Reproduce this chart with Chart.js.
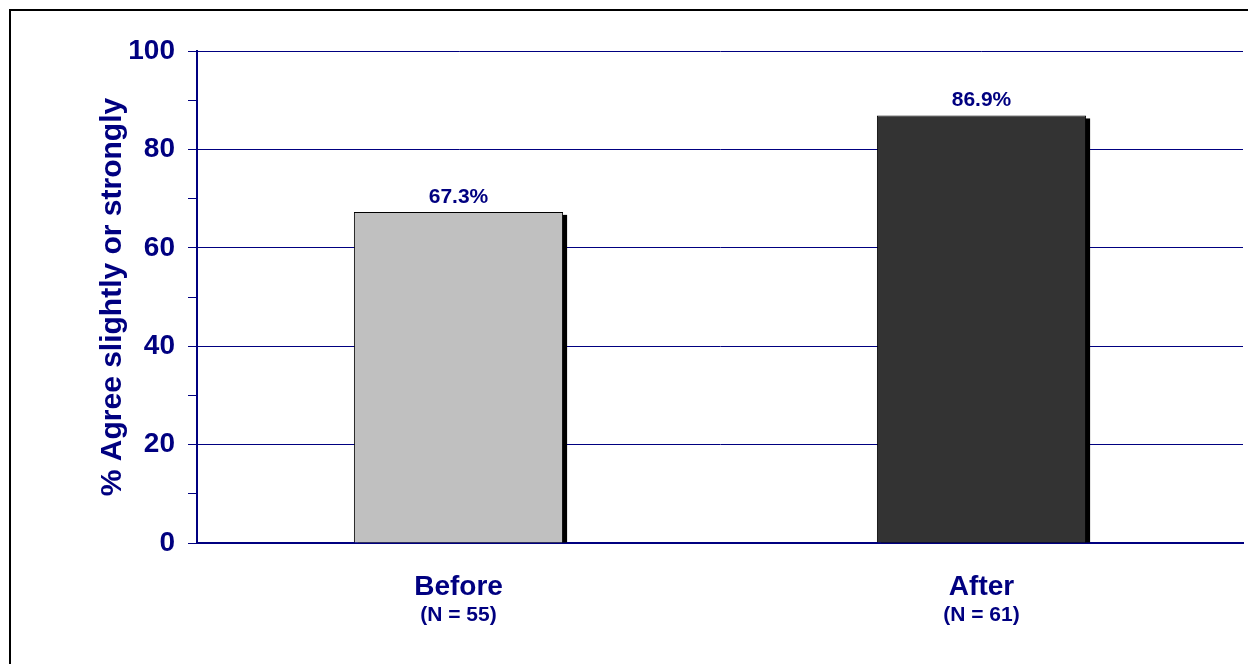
<!DOCTYPE html>
<html>
<head>
<meta charset="utf-8">
<script src="https://cdn.jsdelivr.net/npm/chart.js@4"></script>
<style>
  html, body { margin: 0; padding: 0; background: #fff; overflow: hidden; }
  #wrap { position: relative; width: 1248px; height: 664px; }
  #frame {
    position: absolute; left: 9px; top: 9px; width: 1400px; height: 800px;
    border-left: 2px solid #000; border-top: 2px solid #000; pointer-events: none;
  }
</style>
</head>
<body>
<div id="wrap">
  <canvas id="agreeChart"></canvas>
  <div id="frame"></div>
</div>
<script>
// Chart data
const categories = ["Before", "After"];
const sampleLabels = ["(N = 55)", "(N = 61)"];
const agreePct = [67.3, 86.9];
const barColors = ["#c0c0c0", "#333333"];

const NAVY = "#000080";
const FONT = "'Liberation Sans', Arial, sans-serif";

// Drop shadow behind each bar
const barShadow = {
  id: "barShadow",
  beforeDatasetsDraw(chart) {
    const ctx = chart.ctx;
    const meta = chart.getDatasetMeta(0);
    ctx.save();
    ctx.fillStyle = "#000";
    meta.data.forEach((bar) => {
      const w = bar.width;
      ctx.fillRect(bar.x - w / 2 + 4, bar.y + 3, w, bar.base - bar.y - 3);
    });
    ctx.restore();
  },
};

// Value labels above bars
const valueLabels = {
  id: "valueLabels",
  afterDatasetsDraw(chart) {
    const ctx = chart.ctx;
    const meta = chart.getDatasetMeta(0);
    ctx.save();
    ctx.fillStyle = NAVY;
    ctx.font = "bold 21px " + FONT;
    ctx.textAlign = "center";
    ctx.textBaseline = "alphabetic";
    meta.data.forEach((bar, i) => {
      ctx.fillText(agreePct[i].toFixed(1) + "%", bar.x, bar.y - 9);
    });
    ctx.restore();
  },
};

const ctx = document.getElementById("agreeChart").getContext("2d");
new Chart(ctx, {
  type: "bar",
  data: {
    labels: categories,
    datasets: [
      {
        data: agreePct,
        backgroundColor: barColors,
        borderColor: "#000",
        borderWidth: 1,
        barPercentage: 0.4,
        categoryPercentage: 1,
      },
    ],
  },
  options: {
    responsive: true,
    maintainAspectRatio: false,
    animation: false,
    layout: {
      padding: { left: 90, right: 5, top: 51, bottom: 0 },
    },
    plugins: {
      legend: { display: false },
      tooltip: { enabled: false },
    },
    scales: {
      x: {
        position: "bottom",
        weight: 0,
        grid: { display: false, drawTicks: false },
        border: { display: true, color: NAVY, width: 2 },
        ticks: {
          color: NAVY,
          padding: 27,
          font: { family: FONT, size: 28, weight: "bold" },
        },
        afterFit(scale) {
          scale.height = 54;
        },
      },
      x2: {
        type: "category",
        position: "bottom",
        weight: 1,
        labels: sampleLabels,
        grid: { display: false, drawTicks: false },
        border: { display: false },
        ticks: {
          color: NAVY,
          padding: 6,
          font: { family: FONT, size: 21, weight: "bold" },
        },
        afterFit(scale) {
          scale.height = 67;
        },
      },
      y: {
        min: 0,
        max: 100,
        grid: {
          color: (c) => (c.tick && c.tick.value % 20 === 0 ? NAVY : "rgba(0,0,0,0)"),
          tickColor: NAVY,
          tickLength: 9,
          lineWidth: 1,
        },
        border: { display: true, color: NAVY, width: 2 },
        ticks: {
          stepSize: 10,
          color: NAVY,
          padding: 13,
          font: { family: FONT, size: 28, weight: "bold" },
          callback: (v) => (v % 20 === 0 ? v : ""),
        },
        title: {
          display: true,
          text: "% Agree slightly or strongly",
          color: NAVY,
          padding: { top: 5, bottom: 0 },
          font: { family: FONT, size: 30, weight: "bold" },
        },
        afterFit(scale) {
          scale.width = 107;
        },
      },
    },
  },
  plugins: [barShadow, valueLabels],
});
</script>
</body>
</html>
